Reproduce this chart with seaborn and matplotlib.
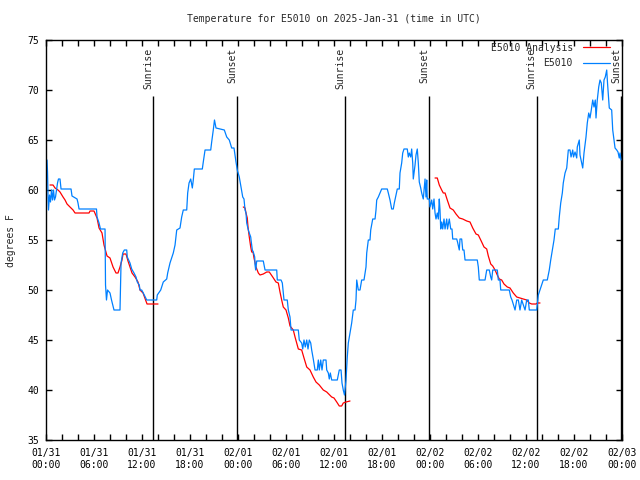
import pandas as pd
import seaborn as sns
import matplotlib
matplotlib.use("Agg")
import matplotlib.pyplot as plt
import matplotlib.dates as mdates

# Start of the plotted window (UTC)
START = "2025-01-31 00:00"
END = "2025-02-03 00:00"

# E5010 station observations: hours after START, degrees F
obs_hours = [
    0.13, 0.19, 0.25, 0.31, 0.44, 0.56, 0.69, 0.81, 0.94, 1.06,
    1.19, 1.31, 1.44, 1.56, 1.75, 1.88, 3.13, 3.25, 3.88, 4.0,
    4.13, 6.31, 6.38, 6.63, 6.81, 7.38, 7.44, 7.56, 7.69, 8.0,
    8.19, 8.5, 9.25, 9.38, 9.59, 9.79, 10.09, 10.16, 10.5, 10.71,
    11.0, 11.25, 11.41, 11.66, 11.75, 11.96, 12.16, 12.59, 13.84, 13.91,
    14.34, 14.66, 15.09, 15.21, 15.5, 15.91, 16.13, 16.34, 16.75, 16.96,
    17.16, 17.59, 17.71, 17.88, 18.09, 18.29, 18.41, 18.54, 19.54, 19.66,
    19.88, 20.59, 20.71, 20.91, 21.06, 21.25, 22.29, 22.59, 22.91, 23.21,
    23.5, 23.75, 23.91, 24.16, 24.38, 24.59, 24.75, 24.88, 25.0, 25.09,
    25.29, 25.41, 25.59, 25.63, 25.79, 25.91, 26.09, 26.13, 26.21, 26.34,
    27.16, 27.38, 28.84, 28.91, 29.38, 29.54, 29.75, 30.16, 30.29, 30.5,
    30.63, 31.54, 31.66, 31.96, 32.09, 32.25, 32.41, 32.59, 32.75, 32.91,
    33.09, 33.21, 33.41, 33.63, 33.91, 34.04, 34.16, 34.34, 34.5, 34.66,
    35.0, 35.09, 35.29, 35.41, 35.54, 35.71, 36.41, 36.66, 36.88, 37.0,
    37.16, 37.31, 37.38, 37.5, 37.66, 37.79, 38.0, 38.21, 38.41, 38.63,
    38.75, 38.84, 39.04, 39.25, 39.46, 39.75, 40.0, 40.09, 40.29, 40.5,
    40.59, 40.71, 40.84, 41.13, 41.25, 41.34, 41.54, 41.75, 41.96, 42.66,
    42.79, 43.0, 43.21, 43.41, 43.54, 43.75, 43.91, 44.16, 44.25, 44.46,
    44.59, 44.75, 45.16, 45.29, 45.41, 45.59, 45.71, 45.84, 45.91, 46.13,
    46.25, 46.41, 46.54, 46.66, 46.84, 46.96, 47.16, 47.38, 47.5, 47.59,
    47.66, 47.91, 48.0, 48.21, 48.34, 48.5, 48.63, 48.75, 48.91, 49.04,
    49.16, 49.25, 49.34, 49.46, 49.59, 49.75, 49.88, 50.09, 50.19, 50.41,
    50.59, 50.75, 50.84, 51.34, 51.44, 51.66, 51.75, 51.96, 52.09, 52.25,
    52.38, 53.91, 54.04, 54.16, 54.88, 55.09, 55.41, 55.59, 55.71, 55.84,
    56.41, 56.54, 56.75, 56.84, 57.91, 58.09, 58.25, 58.63, 58.84, 59.04,
    59.25, 59.46, 59.88, 60.09, 60.29, 60.41, 61.34, 61.54, 61.75, 61.96,
    62.16, 62.66, 62.91, 63.09, 63.29, 63.5, 63.66, 64.04, 64.16, 64.34,
    64.54, 64.66, 64.88, 65.09, 65.29, 65.5, 65.63, 65.84, 65.94, 66.13,
    66.34, 66.41, 66.66, 66.75, 66.96, 67.09, 67.25, 67.5, 67.66, 67.84,
    68.0, 68.16, 68.34, 68.5, 68.66, 68.75, 68.91, 69.09, 69.25, 69.41,
    69.59, 69.75, 69.91, 70.09, 70.19, 70.41, 70.71, 70.84, 71.0, 71.13,
    71.34, 71.5, 71.66, 71.75, 71.88,
]
obs_temp = [
    63, 61.8, 59.5, 58, 59.5, 58.8, 60, 59, 60, 59,
    59.3, 60, 60.7, 61.1, 61.1, 60.1, 60.1, 59.4, 59.1, 58.7,
    58.1, 58.1, 57.3, 56.7, 56.1, 56.1, 50.5, 49, 50, 49.7,
    49, 48, 48, 52.7, 53.7, 54, 54, 53.3, 52.7, 52.1,
    51.7, 51.3, 50.8, 50.5, 50, 50, 49.7, 49, 49, 49.5,
    50, 50.8, 51.1, 51.7, 52.7, 53.7, 54.5, 56, 56.2, 57.3,
    58, 58, 59.7, 60.7, 61.1, 60.2, 61, 62.1, 62.1, 62.8,
    64, 64, 64.8, 66, 67, 66.2, 66, 65.3, 65, 64.2,
    64.2, 62.8, 62, 61.3, 60.3, 59.3, 59.1, 58, 57.7, 56.7,
    56, 55.7, 55.3, 55, 54, 53.8, 53.3, 52.5, 52, 52.9,
    52.9, 52, 52, 51, 51, 50.7, 49, 49, 48, 47.3,
    46, 46, 45, 44.7, 44.1, 45, 44.3, 45, 44.1, 45,
    44.7, 44, 43.1, 42, 42, 43, 42, 43, 42, 43,
    43, 42, 41.7, 41.1, 41.7, 41, 41, 42, 42, 40.7,
    40, 39.5, 40, 41, 43.3, 44.7, 45.7, 46.7, 48, 48,
    49, 51, 50, 50, 51, 51, 52.3, 53.7, 55, 55,
    56, 56.5, 57.1, 57.1, 58, 59, 59.3, 59.7, 60.1, 60.1,
    59.7, 59, 58.1, 58.1, 58.7, 59.5, 60.1, 60.1, 61.7, 62.7,
    63.7, 64.1, 64.1, 63.3, 63.7, 63.3, 64.1, 62.7, 61.1, 62.5,
    63.5, 64.1, 62.7, 60.8, 60.2, 59.7, 59.1, 61.1, 59.3, 61,
    59.1, 59.1, 58.3, 59, 58.1, 59.1, 57.7, 57.1, 57.7, 57.1,
    59.1, 58, 56.1, 56.8, 56.1, 57.1, 56.1, 57.1, 56.1, 57.1,
    56.1, 56.1, 55.1, 55.1, 54.8, 54, 55.1, 55.1, 54, 54,
    53, 53, 52.3, 51, 51, 52, 52, 51.3, 51, 52,
    52, 51, 51, 50, 50, 49.3, 49, 48, 49, 49,
    48, 49, 48, 49, 49, 48, 48, 49.5, 50, 50.5,
    51, 51, 52, 53, 54, 55, 56.1, 56.1, 57.3, 58.7,
    59.7, 60.7, 61.7, 62.2, 64, 64, 63.3, 64, 63.3, 63.8,
    63.2, 64.3, 65, 63.5, 62.7, 62.2, 63.7, 65.3, 66.7, 67.7,
    67.2, 68, 69, 68.3, 69, 67.2, 69, 70.3, 71, 70.7,
    69, 71, 71.3, 72, 70.7, 68.2, 68, 66, 65, 64.2,
    64, 63.8, 63.2, 63.7, 63,
]

# E5010 analysis, three separate runs
ana1_hours = [0.5, 0.88, 1.13, 1.5, 1.75, 2.13, 2.38, 2.63, 3.0, 3.38,
              3.63, 5.38, 5.5, 6.0, 6.38, 6.63, 7.0, 7.25, 7.63, 8.0,
              8.38, 8.75, 9.0, 9.25, 9.5, 9.63, 10.0, 10.25, 10.5, 10.75,
              11.13, 11.5, 11.75, 12.13, 12.63, 14.0]
ana1_temp = [60.5, 60.5, 60.2, 60, 59.8, 59.3, 59, 58.6, 58.3, 58,
             57.7, 57.7, 57.9, 57.9, 57.2, 56.2, 55.7, 54.5, 53.4, 53.2,
             52.3, 51.7, 51.7, 52.3, 53, 53.6, 53.6, 52.9, 52.3, 51.7,
             51.3, 50.8, 50, 49.7, 48.6, 48.6]

ana2_hours = [24.66, 24.88, 25.0, 25.16, 25.25, 25.41, 25.59, 25.71, 25.88, 26.0,
              26.25, 26.54, 26.75, 27.16, 27.59, 27.91, 28.34, 28.75, 29.04, 29.25,
              29.46, 29.66, 30.0, 30.29, 30.5, 30.91, 31.13, 31.54, 31.96, 32.25,
              32.59, 33.0, 33.41, 33.75, 34.16, 34.66, 35.09, 35.71, 36.0, 36.34,
              36.66, 36.96, 37.16, 37.5, 38.0]
ana2_temp = [58.3, 58.2, 57.7, 57.2, 56.3, 55.3, 54.3, 53.8, 53.8, 53.2,
             52.3, 51.7, 51.5, 51.6, 51.8, 51.8, 51.3, 50.8, 50.7, 49.8,
             49, 48.3, 48, 47.2, 46.4, 46, 45.3, 44.1, 44, 43.2,
             42.3, 42, 41.3, 40.8, 40.5, 40, 39.8, 39.3, 39.2, 38.8,
             38.4, 38.4, 38.7, 38.8, 38.9]

ana3_hours = [48.63, 48.91, 49.16, 49.46, 49.66, 49.88, 50.16, 50.5, 50.91, 51.25,
              51.66, 52.09, 52.59, 53.0, 53.34, 53.75, 54.04, 54.46, 54.75, 55.09,
              55.29, 55.59, 55.84, 56.13, 56.41, 56.66, 56.96, 57.25, 57.66, 58.0,
              58.41, 58.84, 59.25, 59.66, 60.09, 60.41, 60.71, 61.25, 61.41, 61.75]
ana3_temp = [61.2, 61.2, 60.5, 60, 59.7, 59.7, 59, 58.2, 58, 57.6,
             57.2, 57.1, 56.9, 56.8, 56.2, 55.6, 55.5, 54.8, 54.3, 54.1,
             53.4, 52.6, 52.4, 52, 51.5, 51.1, 51.0, 50.6, 50.3, 50.2,
             49.7, 49.3, 49.2, 49.1, 49, 48.7, 48.6, 48.6, 48.7, 48.7]

# sunrise / sunset, hours after START
sun_hours = [13.37, 23.88, 37.37, 47.9, 61.33, 71.92]
sun_labels = ["Sunrise", "Sunset", "Sunrise", "Sunset", "Sunrise", "Sunset"]

OBS_COLOR = "#0080ff"
ANA_COLOR = "#ff0000"


def to_time(hours):
    return pd.Timestamp(START) + pd.to_timedelta(hours, unit="h")


def build_frames():
    obs = pd.DataFrame({"time": to_time(obs_hours), "temp": obs_temp})
    runs = []
    for i, (h, t) in enumerate([(ana1_hours, ana1_temp),
                                (ana2_hours, ana2_temp),
                                (ana3_hours, ana3_temp)]):
        runs.append(pd.DataFrame({"time": to_time(h), "temp": t, "run": i}))
    ana = pd.concat(runs, ignore_index=True)
    return obs, ana


def main():
    sns.set_style("ticks")
    plt.rcParams["font.family"] = ["DejaVu Sans Mono"]
    plt.rcParams["font.size"] = 7

    obs, ana = build_frames()

    fig = plt.figure(figsize=(6.4, 4.8), dpi=100)
    ax = fig.add_axes([46 / 640, 40 / 480, 576 / 640, 400 / 480])

    sns.lineplot(data=ana, x="time", y="temp", units="run", estimator=None,
                 color=ANA_COLOR, lw=0.9, label="E5010 Analysis", ax=ax)
    sns.lineplot(data=obs, x="time", y="temp", color=OBS_COLOR, lw=0.9,
                 label="E5010", ax=ax)

    # sunrise / sunset markers
    sun_times = to_time(sun_hours)
    ax.vlines(sun_times, 35, 69.4, color="black", lw=1.0, zorder=1)
    for t, lab in zip(sun_times, sun_labels):
        ax.text(t, 74.2, lab, rotation=90, ha="right", va="top", fontsize=7)

    ax.set_xlim(pd.Timestamp(START), pd.Timestamp(END))
    ax.set_ylim(35, 75)
    ax.set_yticks(range(35, 80, 5))
    ax.xaxis.set_major_locator(mdates.HourLocator(byhour=[0, 6, 12, 18]))
    ax.xaxis.set_minor_locator(mdates.HourLocator(byhour=range(0, 24, 2)))
    ax.xaxis.set_major_formatter(mdates.DateFormatter("%m/%d\n%H:%M"))
    ax.tick_params(axis="both", which="both", direction="in", top=True,
                   right=True, length=4, width=1, colors="black", labelsize=7)
    ax.tick_params(axis="x", pad=6)
    ax.tick_params(axis="y", pad=5)
    for s in ax.spines.values():
        s.set_linewidth(1)
        s.set_color("black")

    ax.set_xlabel("")
    ax.set_ylabel("")
    ax.set_title("Temperature for E5010 on 2025-Jan-31 (time in UTC)",
                 fontsize=7, pad=13)
    fig.text(11 / 640, 1 - 241 / 480, "degrees F", rotation=90,
             ha="center", va="center", fontsize=7)

    # one legend entry per series, gnuplot-like (text then sample)
    handles, labels = ax.get_legend_handles_labels()
    uniq = dict(zip(labels, handles))
    ax.legend(list(uniq.values()), list(uniq.keys()), loc="upper right",
              bbox_to_anchor=(0.979, 0.993), borderaxespad=0, borderpad=0,
              frameon=False, markerfirst=False, handlelength=2.8,
              handletextpad=1.0, labelspacing=0.55, fontsize=7)

    fig.savefig("out.png", dpi=100)


if __name__ == "__main__":
    main()
